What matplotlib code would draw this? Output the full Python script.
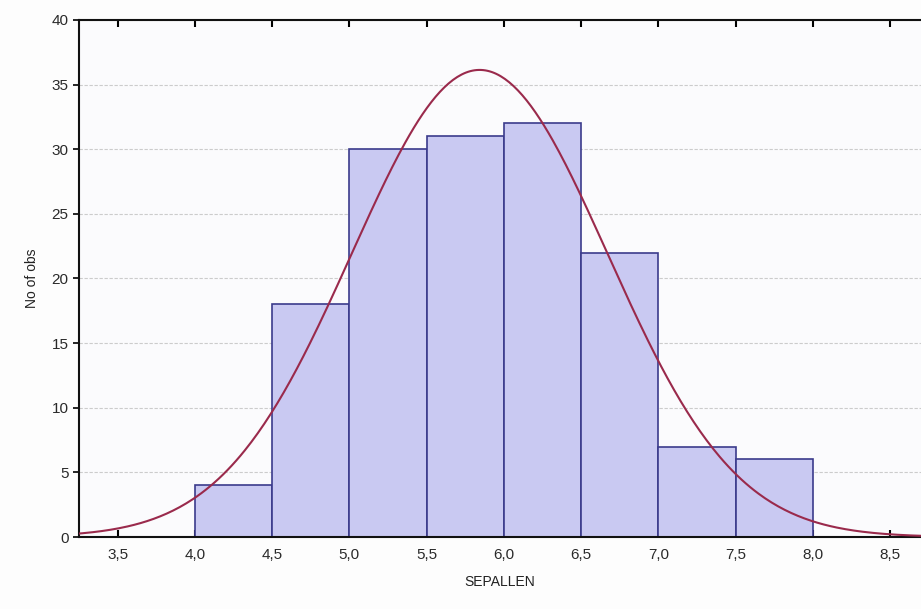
import numpy as np
import matplotlib.pyplot as plt

# histogram of SEPALLEN
bin_edges = [4.0, 4.5, 5.0, 5.5, 6.0, 6.5, 7.0, 7.5, 8.0]
counts = [4, 18, 30, 31, 32, 22, 7, 6]

# fitted normal curve parameters
fit_mean = 5.843
fit_sd = 0.828
n_obs = 150
bin_width = 0.5

xticks = [3.5, 4.0, 4.5, 5.0, 5.5, 6.0, 6.5, 7.0, 7.5, 8.0, 8.5]
yticks = [0, 5, 10, 15, 20, 25, 30, 35, 40]

plt.rcParams['font.family'] = ['Liberation Sans', 'DejaVu Sans']

fig = plt.figure(figsize=(9.21, 6.09), dpi=100)
fig.patch.set_facecolor('#fdfdfd')
ax = fig.add_axes([0.0858, 0.1182, 0.9142, 0.849])
ax.set_facecolor('#fbfbfd')

lefts = np.array(bin_edges[:-1])
ax.bar(lefts, counts, width=np.diff(bin_edges), align='edge',
       color='#c9c9f2', edgecolor='#3b3b8c', linewidth=1.2, zorder=2)

xs = np.linspace(3.2, 8.8, 400)
pdf = np.exp(-0.5 * ((xs - fit_mean) / fit_sd) ** 2) / (fit_sd * np.sqrt(2 * np.pi))
ax.plot(xs, pdf * n_obs * bin_width, color='#9a2a4c', linewidth=1.5, zorder=3)

ax.set_xlim(3.25, 8.70)
ax.set_ylim(0, 40)
ax.set_xticks(xticks)
ax.set_xticklabels([f"{t:.1f}".replace('.', ',') for t in xticks])
ax.set_yticks(yticks)
ax.yaxis.grid(True, linestyle=(0, (3, 1.5)), color='#cccccc', linewidth=0.8, zorder=1)

ax.spines['right'].set_visible(False)
for s in ['left', 'bottom', 'top']:
    ax.spines[s].set_linewidth(1.5)
    ax.spines[s].set_color('#111111')

ax.tick_params(axis='x', direction='in', top=True, length=5, width=1.5,
               labelsize=11, labelcolor='#2a2a2a', pad=8)
ax.tick_params(axis='y', direction='out', length=4, width=1.2,
               labelsize=11, labelcolor='#2a2a2a')

ax.set_xlabel('SEPALLEN', fontsize=10, color='#222222', labelpad=9)
ax.set_ylabel('No of obs', fontsize=10, color='#222222', labelpad=9)

fig.savefig('out.png', dpi=100, facecolor=fig.get_facecolor())
